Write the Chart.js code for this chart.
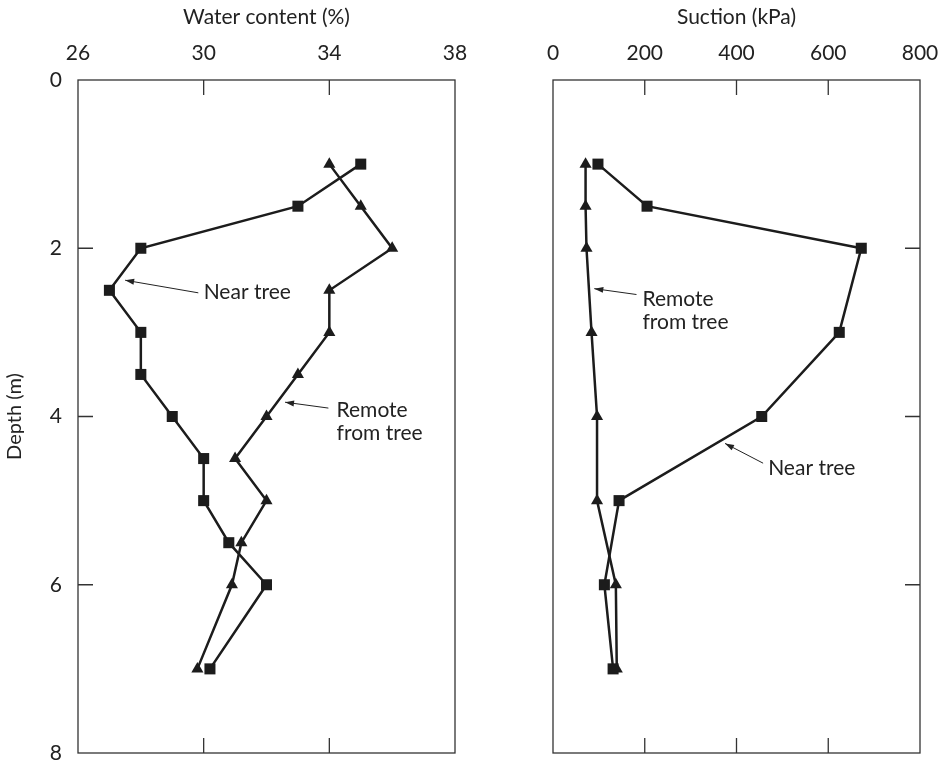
<!doctype html>
<html lang="en">
<head>
<meta charset="utf-8">
<title>Water content and suction profiles</title>
<style>
  body { margin: 0; background: #fff; }
  .panel { position: absolute; top: 0; }
</style>
</head>
<body>
<div class="panel" style="left:0"><canvas id="waterChart" width="470" height="763"></canvas></div>
<div class="panel" style="left:470px"><canvas id="suctionChart" width="468" height="763"></canvas></div>
<script src="https://cdn.jsdelivr.net/npm/chart.js@4.4.1/dist/chart.umd.min.js"></script>
<script>
// left panel: water content (%) against depth (m)
const waterDepths = [1, 1.5, 2, 2.5, 3, 3.5, 4, 4.5, 5, 5.5, 6, 7];
const waterNear = [35, 33, 28, 27, 28, 28, 29, 30, 30, 30.8, 32, 30.2];
const waterRemote = [34, 35, 36, 34, 34, 33, 32, 31, 32, 31.2, 30.9, 29.8];

// right panel: suction (kPa) against depth (m)
const suctionDepths = [1, 1.5, 2, 3, 4, 5, 6, 7];
const suctionNear = [98, 205, 672, 624, 455, 144, 112, 131];
const suctionRemote = [71, 71, 73, 84, 96, 96, 137, 139];

const waterTicks = [26, 30, 34, 38];
const suctionTicks = [0, 200, 400, 600, 800];
const depthTicks = [0, 2, 4, 6, 8];

// callouts, in data units
const waterNotes = [
  { lines: ['Near tree'], x: 30.0, y: 2.52, from: [29.83, 2.53], to: [27.5, 2.38] },
  { lines: ['Remote', 'from tree'], x: 34.23, y: 3.92, from: [33.97, 3.9], to: [32.59, 3.83] }
];
const suctionNotes = [
  { lines: ['Remote', 'from tree'], x: 195, y: 2.61, from: [182, 2.55], to: [90, 2.48] },
  { lines: ['Near tree'], x: 469, y: 4.62, from: [458, 4.555], to: [375, 4.32] }
];

Chart.defaults.font.family = 'Lato';
Chart.defaults.color = '#222';

const ink = '#1c1c1c';

function points(xs, ys) {
  return ys.map((d, i) => ({ x: xs[i], y: d }));
}

function series(xs, ys, style, radius) {
  return {
    data: points(xs, ys),
    showLine: true,
    borderColor: ink,
    borderWidth: 2.5,
    pointStyle: style,
    pointRadius: radius,
    pointBackgroundColor: ink,
    pointBorderWidth: 0,
    pointHoverRadius: radius
  };
}

const framePlugin = {
  id: 'frame',
  beforeDatasetsDraw(chart, args, opts) {
    const { ctx, chartArea: a, scales } = chart;
    const len = 15;
    ctx.save();
    ctx.strokeStyle = '#333';
    ctx.lineWidth = 1.3;
    ctx.strokeRect(a.left, a.top, a.right - a.left, a.bottom - a.top);
    ctx.beginPath();
    scales.x.ticks.forEach(t => {
      if (t.value <= scales.x.min || t.value >= scales.x.max) return;
      const px = scales.x.getPixelForValue(t.value);
      ctx.moveTo(px, a.top); ctx.lineTo(px, a.top + len);
      ctx.moveTo(px, a.bottom); ctx.lineTo(px, a.bottom - len);
    });
    scales.y.ticks.forEach(t => {
      if (t.value <= scales.y.min || t.value >= scales.y.max) return;
      const py = scales.y.getPixelForValue(t.value);
      if (opts.side === 'left') { ctx.moveTo(a.left, py); ctx.lineTo(a.left + len, py); }
      else { ctx.moveTo(a.right, py); ctx.lineTo(a.right - len, py); }
    });
    ctx.stroke();
    ctx.restore();
  },
  afterDatasetsDraw(chart, args, opts) {
    const { ctx, scales } = chart;
    const px = v => scales.x.getPixelForValue(v);
    const py = v => scales.y.getPixelForValue(v);
    ctx.save();
    ctx.font = '21px Lato';
    ctx.fillStyle = '#222';
    ctx.textAlign = 'left';
    ctx.textBaseline = 'middle';
    (opts.notes || []).forEach(n => {
      n.lines.forEach((s, i) => ctx.fillText(s, px(n.x), py(n.y) + i * 23));
      const x0 = px(n.from[0]), y0 = py(n.from[1]);
      const x1 = px(n.to[0]), y1 = py(n.to[1]);
      ctx.strokeStyle = '#222';
      ctx.lineWidth = 1;
      ctx.beginPath();
      ctx.moveTo(x0, y0); ctx.lineTo(x1, y1);
      ctx.stroke();
      const ang = Math.atan2(y1 - y0, x1 - x0);
      const hl = 9, hw = 3;
      ctx.beginPath();
      ctx.moveTo(x1, y1);
      ctx.lineTo(x1 - hl * Math.cos(ang) + hw * Math.sin(ang), y1 - hl * Math.sin(ang) - hw * Math.cos(ang));
      ctx.lineTo(x1 - hl * Math.cos(ang) - hw * Math.sin(ang), y1 - hl * Math.sin(ang) + hw * Math.cos(ang));
      ctx.closePath();
      ctx.fill();
    });
    ctx.restore();
  }
};

function topAxis(title, min, max, tickValues) {
  return {
    type: 'linear',
    position: 'top',
    min: min, max: max,
    afterBuildTicks: s => { s.ticks = tickValues.map(v => ({ value: v })); },
    grid: { display: false },
    border: { display: false },
    ticks: { font: { size: 21 }, padding: 6, maxRotation: 0 },
    title: { display: true, text: title, font: { size: 21 }, padding: { top: 5, bottom: 0 } },
    afterFit: s => { s.height = 80; s.paddingLeft = 0; s.paddingRight = 0; }
  };
}

new Chart(document.getElementById('waterChart'), {
  type: 'scatter',
  data: {
    datasets: [
      series(waterNear, waterDepths, 'rect', 7.8),
      series(waterRemote, waterDepths, 'triangle', 7)
    ]
  },
  options: {
    responsive: false,
    animation: false,
    layout: { padding: { left: 0, right: 15, top: 0, bottom: 10 } },
    plugins: { legend: { display: false }, tooltip: { enabled: false }, frame: { side: 'left', notes: waterNotes } },
    scales: {
      x: topAxis('Water content (%)', 26, 38, waterTicks),
      y: {
        type: 'linear',
        reverse: true,
        min: 0, max: 8,
        afterBuildTicks: s => { s.ticks = depthTicks.map(v => ({ value: v })); },
        grid: { display: false },
        border: { display: false },
        ticks: { font: { size: 21 }, padding: 8 },
        title: { display: true, text: 'Depth (m)', font: { size: 20 }, padding: { top: 3, bottom: 0 } },
        afterFit: s => { s.width = 78; s.paddingTop = 0; s.paddingBottom = 0; }
      }
    }
  },
  plugins: [framePlugin]
});

new Chart(document.getElementById('suctionChart'), {
  type: 'scatter',
  data: {
    datasets: [
      series(suctionNear, suctionDepths, 'rect', 7.8),
      series(suctionRemote, suctionDepths, 'triangle', 7)
    ]
  },
  options: {
    responsive: false,
    animation: false,
    layout: { padding: { left: 83, right: 18, top: 0, bottom: 10 } },
    plugins: { legend: { display: false }, tooltip: { enabled: false }, frame: { side: 'right', notes: suctionNotes } },
    scales: {
      x: topAxis('Suction (kPa)', 0, 800, suctionTicks),
      y: {
        type: 'linear',
        position: 'right',
        reverse: true,
        min: 0, max: 8,
        afterBuildTicks: s => { s.ticks = depthTicks.map(v => ({ value: v })); },
        grid: { display: false },
        border: { display: false },
        ticks: { display: false },
        afterFit: s => { s.width = 0; s.paddingTop = 0; s.paddingBottom = 0; }
      }
    }
  },
  plugins: [framePlugin]
});
</script>
</body>
</html>
